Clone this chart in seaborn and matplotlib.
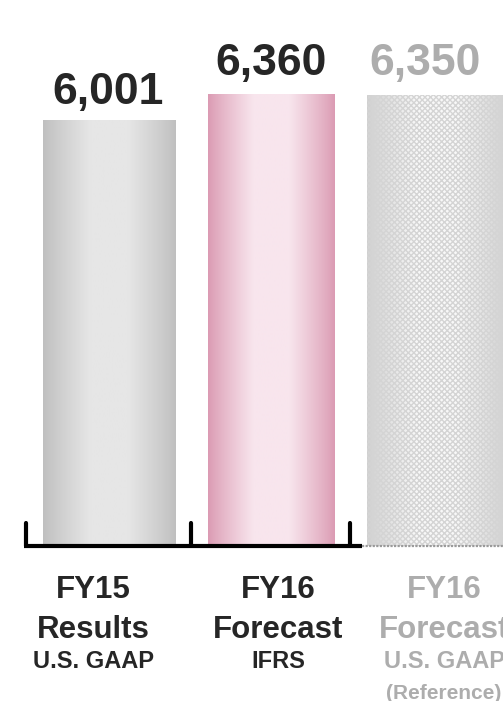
import numpy as np
import matplotlib
matplotlib.use("Agg")
import matplotlib.pyplot as plt
import seaborn as sns

# chart data
categories = ["FY15 Results", "FY16 Forecast IFRS", "FY16 Forecast U.S. GAAP"]
values = [6001, 6360, 6350]
value_labels = ["6,001", "6,360", "6,350"]
line1 = ["FY15", "FY16", "FY16"]
line2 = ["Results", "Forecast", "Forecast"]
line3 = ["U.S. GAAP", "IFRS", "U.S. GAAP"]
line4 = ["", "", "(Reference)"]

sns.set_style("white")
plt.rcParams["font.family"] = ["Liberation Sans", "DejaVu Sans"]

fig = plt.figure(figsize=(5.03, 7.01), dpi=100)
ax = fig.add_axes([0, 155 / 701, 1, 546 / 701])

sns.barplot(x=categories, y=values, hue=categories, palette=["#c8c8c8", "#e0a8bd", "#e8e8e8"],
            width=0.8, legend=False, ax=ax, linewidth=0)

# per-bar width tweaks (left offset from centre, width)
bar_left = [0.407, 0.389, 0.407]
bar_width = [0.815, 0.778, 0.86]
for i, patch in enumerate(ax.patches[:3]):
    c = patch.get_x() + patch.get_width() / 2
    patch.set_x(c - bar_left[i])
    patch.set_width(bar_width[i])


def gradient(edge, center, n=256):
    t = np.linspace(0, 1, n)
    w = np.clip((1 - np.abs(2 * t - 1)) * 1.4, 0, 1)
    w = w ** 0.9
    edge = np.array(matplotlib.colors.to_rgb(edge))
    center = np.array(matplotlib.colors.to_rgb(center))
    img = edge[None, :] + (center - edge)[None, :] * w[:, None]
    return img[None, :, :]


grads = [("#bfbfbf", "#e6e6e6"), ("#db9bb3", "#f8e5ed"), ("#cfcfcf", "#f8f8f8")]
for i, patch in enumerate(ax.patches[:3]):
    x0, y0 = patch.get_x(), patch.get_y()
    w, h = patch.get_width(), patch.get_height()
    im = ax.imshow(gradient(*grads[i]), extent=[x0, x0 + w, y0, y0 + h],
                   aspect="auto", zorder=patch.get_zorder() + 0.1, interpolation="bilinear")
    im.set_clip_path(patch)
    patch.set_facecolor("none")
ax.set_xlim(-0.673, 2.432)
ax.set_ylim(0, 7683)

# dotted texture on the reference bar
p3 = ax.patches[2]
ax.bar(p3.get_x(), p3.get_height(), width=p3.get_width(), align="edge",
       facecolor="none", edgecolor="#d4d4d4", hatch="xxxxxx", linewidth=0, zorder=3)

# axis line and ticks
for s in ax.spines.values():
    s.set_visible(False)
ax.set_xticks([])
ax.set_yticks([])
ax.set_xlabel("")
ax.set_ylabel("")
ax.plot([-0.525, 1.56], [0, 0], color="black", lw=3, clip_on=False, zorder=5,
        solid_capstyle="butt")
ax.plot([1.56, 2.45], [0, 0], color="#9a9a9a", lw=1.6, ls=(0, (1, 0.6)), clip_on=False, zorder=5)
for tx in [-0.51, 0.505, 1.49]:
    ax.plot([tx, tx], [0, 330], color="black", lw=3, solid_capstyle="round", zorder=5, clip_on=False)

# value labels
label_dy = [11, 14, 14]
label_dx = [-1, 0, -6]
colors = ["#262626", "#262626", "#adadad"]
for i, v in enumerate(values):
    ax.annotate(value_labels[i], xy=(i, v), xytext=(label_dx[i], label_dy[i]), textcoords="offset points",
                ha="center", va="baseline", fontsize=32, fontweight="bold", color=colors[i])

# category labels
text_dx = [-11, 5, 8]
for i in range(len(categories)):
    for txt, off, fs in [(line1[i], -37.5, 22.5), (line2[i], -66, 22.5),
                         (line3[i], -88, 17), (line4[i], -110, 15)]:
        if txt:
            ax.annotate(txt, xy=(i, 0), xytext=(text_dx[i], off), textcoords="offset points",
                        ha="center", va="baseline", fontsize=fs, fontweight="bold",
                        color=colors[i], annotation_clip=False)

fig.savefig("out.png", dpi=100)
